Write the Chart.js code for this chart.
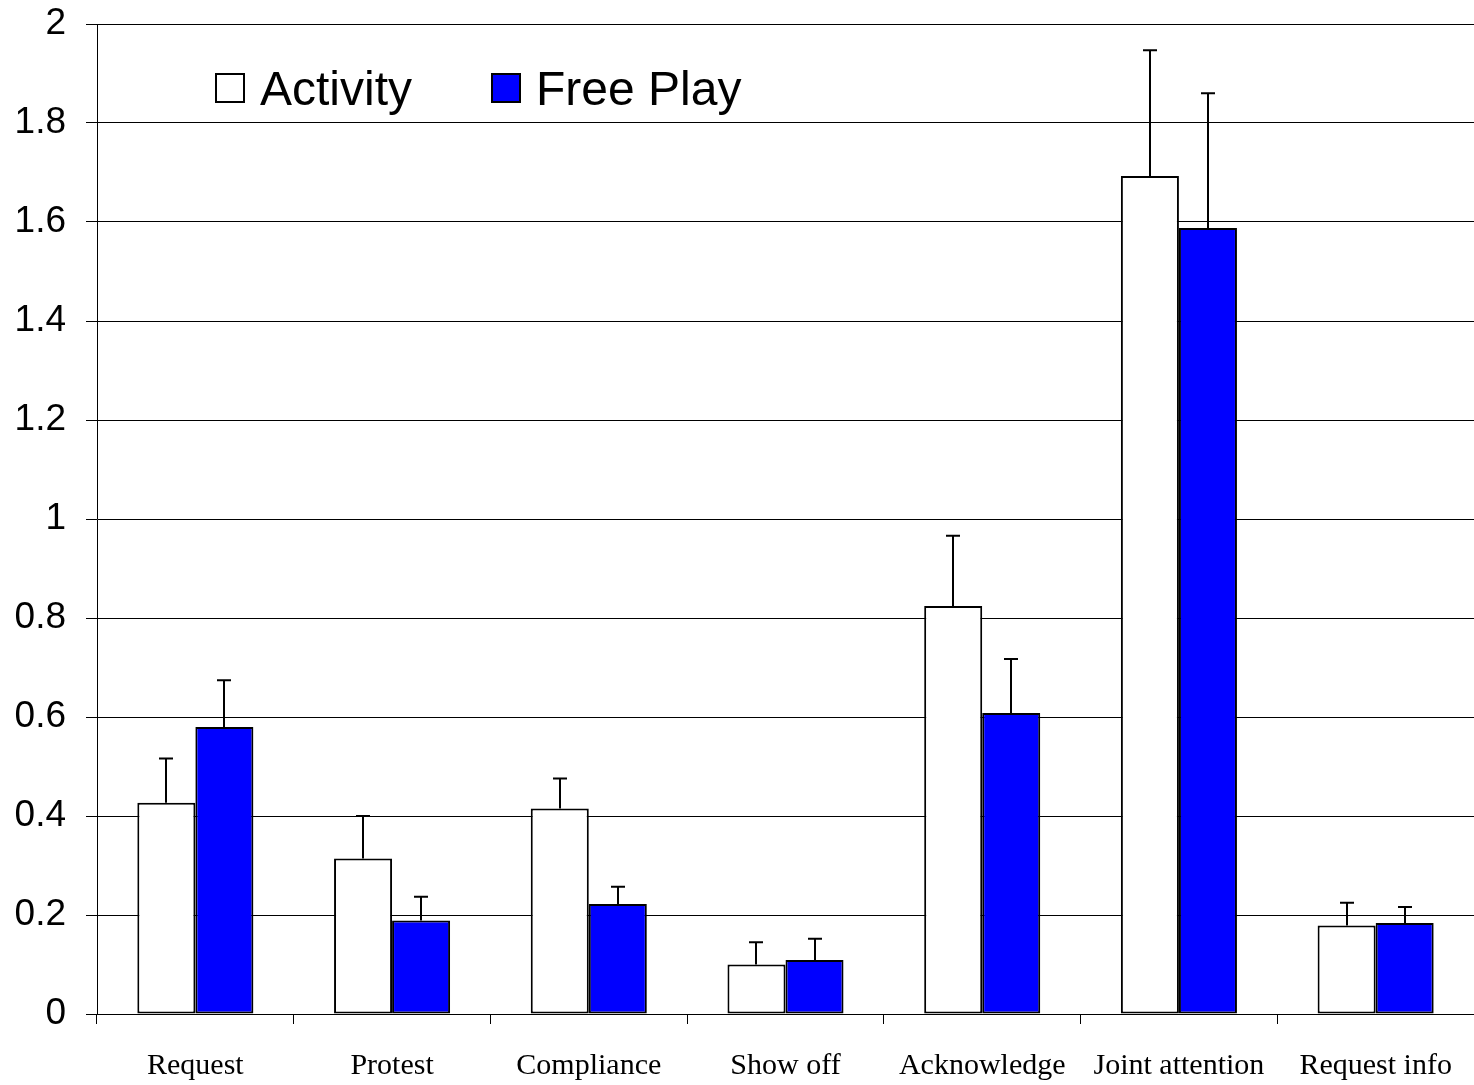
<!DOCTYPE html>
<html>
<head>
<meta charset="utf-8">
<script src="https://cdn.jsdelivr.net/npm/chart.js@4/dist/chart.umd.min.js"></script>
<style>
  html, body { margin: 0; padding: 0; background: #fff; }
  #wrap { width: 1474px; height: 1085px; position: relative; }
</style>
</head>
<body>
<div id="wrap"><canvas id="c" width="1474" height="1085"></canvas></div>
<script>
// Communicative acts per condition (mean with upper error bar)
const categories = ['Request', 'Protest', 'Compliance', 'Show off', 'Acknowledge', 'Joint attention', 'Request info'];
const activityMeans = [0.427, 0.314, 0.415, 0.100, 0.824, 1.693, 0.179];
const activityErrors = [0.089, 0.086, 0.061, 0.045, 0.142, 0.254, 0.046];
const freePlayMeans = [0.580, 0.189, 0.222, 0.109, 0.608, 1.588, 0.184];
const freePlayErrors = [0.094, 0.048, 0.035, 0.043, 0.109, 0.272, 0.032];
const yTicks = [0, 0.2, 0.4, 0.6, 0.8, 1, 1.2, 1.4, 1.6, 1.8, 2];

// Upper error bars: vertical stem from bar top plus a short cap
const errorBars = {
  id: 'errorBars',
  afterDatasetsDraw(chart) {
    const ctx = chart.ctx;
    const y = chart.scales.y;
    ctx.save();
    ctx.strokeStyle = '#000';
    ctx.lineWidth = 2;
    chart.data.datasets.forEach((ds, i) => {
      const meta = chart.getDatasetMeta(i);
      meta.data.forEach((bar, j) => {
        const top = y.getPixelForValue(ds.data[j] + ds.errors[j]);
        const base = y.getPixelForValue(ds.data[j]);
        const x = Math.round(bar.x);
        ctx.beginPath();
        ctx.moveTo(x, base);
        ctx.lineTo(x, top);
        ctx.moveTo(x - 7, top);
        ctx.lineTo(x + 7, top);
        ctx.stroke();
      });
    });
    ctx.restore();
  }
};

// Legend drawn inside the plot area
const innerLegend = {
  id: 'innerLegend',
  afterDraw(chart) {
    const ctx = chart.ctx;
    const items = [{ x: 215 }, { x: 491 }];
    ctx.save();
    ctx.font = '48px "Liberation Sans", Arial, sans-serif';
    ctx.textBaseline = 'alphabetic';
    chart.data.datasets.forEach((ds, i) => {
      const bx = items[i].x;
      ctx.fillStyle = ds.backgroundColor;
      ctx.fillRect(bx, 73, 30, 30);
      ctx.strokeStyle = '#000';
      ctx.lineWidth = 2;
      ctx.strokeRect(bx + 1, 74, 28, 28);
      ctx.fillStyle = '#000';
      ctx.fillText(ds.label, bx + 45, 105);
    });
    ctx.restore();
  }
};

new Chart(document.getElementById('c'), {
  type: 'bar',
  data: {
    labels: categories,
    datasets: [
      {
        label: 'Activity',
        data: activityMeans,
        errors: activityErrors,
        backgroundColor: '#ffffff',
        borderColor: '#000000',
        borderWidth: 2,
        borderSkipped: false
      },
      {
        label: 'Free Play',
        data: freePlayMeans,
        errors: freePlayErrors,
        backgroundColor: '#0000ff',
        borderColor: '#000000',
        borderWidth: 2,
        borderSkipped: false
      }
    ]
  },
  options: {
    responsive: false,
    animation: false,
    devicePixelRatio: 1,
    layout: { padding: { top: 24, right: 0, left: 0, bottom: 0 } },
    categoryPercentage: 0.59,
    barPercentage: 1.0,
    plugins: {
      legend: { display: false },
      tooltip: { enabled: false }
    },
    scales: {
      x: {
        afterFit(scale) {
          scale.height = 71;
          scale.paddingLeft = 0;
          scale.paddingRight = 0;
        },
        grid: {
          display: true,
          drawOnChartArea: false,
          drawTicks: true,
          tickLength: 10,
          color: '#000',
          lineWidth: 1,
          offset: true
        },
        border: { display: true, color: '#000', width: 1 },
        ticks: {
          color: '#000',
          padding: 24,
          font: { family: '"Liberation Serif", "Times New Roman", serif', size: 30 },
          maxRotation: 0,
          autoSkip: false
        }
      },
      y: {
        min: 0,
        max: 2,
        afterFit(scale) {
          scale.width = 97;
          scale.paddingTop = 0;
          scale.paddingBottom = 0;
        },
        afterBuildTicks(scale) { scale.ticks = yTicks.map(v => ({ value: v })); },
        grid: {
          color: '#000',
          lineWidth: 1,
          drawTicks: true,
          tickLength: 11
        },
        border: { display: true, color: '#000', width: 1 },
        ticks: {
          color: '#000',
          padding: 20,
          font: { family: '"Liberation Sans", Arial, sans-serif', size: 37 },
          callback: v => String(Math.round(v * 10) / 10)
        }
      }
    }
  },
  plugins: [errorBars, innerLegend]
});
</script>
</body>
</html>
